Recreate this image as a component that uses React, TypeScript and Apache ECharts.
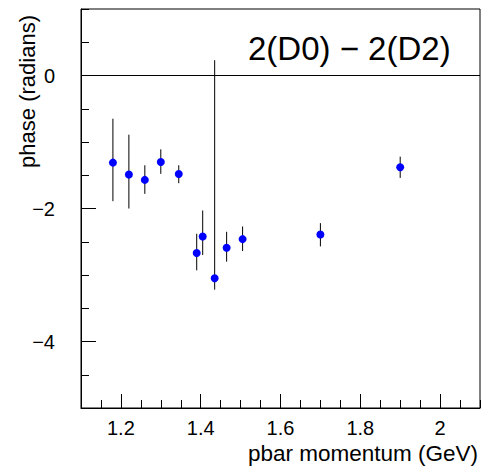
import React, { useEffect, useRef } from "react";
import * as echarts from "echarts";

// pbar momentum (GeV)
const momentum = [1.18, 1.22, 1.26, 1.3, 1.345, 1.39, 1.405, 1.435, 1.465, 1.505, 1.7, 1.9];
// phase difference (radians)
const phase = [-1.31, -1.49, -1.57, -1.3, -1.48, -2.67, -2.42, -3.05, -2.59, -2.46, -2.39, -1.38];
// upper / lower ends of the error bars
const phaseHigh = [-0.65, -0.89, -1.35, -1.11, -1.35, -2.38, -2.03, 0.23, -2.35, -2.27, -2.22, -1.22];
const phaseLow = [-1.89, -2.0, -1.78, -1.48, -1.62, -2.93, -2.7, -3.22, -2.8, -2.64, -2.57, -1.54];

const xMajorTicks = [1.2, 1.4, 1.6, 1.8, 2.0];
const yMajorTicks = [-4, -2, 0];

const FONT = "'Liberation Sans', Arial, sans-serif";

export default function App() {
  const ref = useRef<HTMLDivElement>(null);

  useEffect(() => {
    if (!ref.current) return;
    const chart = echarts.init(ref.current, null, { renderer: "svg" });

    const points = momentum.map((m, i) => [m, phase[i]]);
    const bars = momentum.map((m, i) => [m, phaseLow[i], phaseHigh[i]]);

    const fmtY = (v: number) => (v < 0 ? "\u2212" + Math.abs(v) : String(v));
    const fmtX = (v: number) => String(Math.round(v * 10) / 10);

    chart.setOption({
      animation: false,
      backgroundColor: "#fff",
      grid: {
        left: 81,
        top: 9,
        right: 7,
        bottom: 62,
        show: true,
        borderColor: "#000",
        borderWidth: 1,
        backgroundColor: "transparent",
      },
      xAxis: [
        {
          type: "value",
          min: 1.1,
          max: 2.1,
          interval: 0.1,
          position: "bottom",
          axisLine: { show: true, onZero: false, lineStyle: { color: "#000", width: 1 } },
          axisTick: {
            show: true,
            inside: true,
            length: 14,
            customValues: xMajorTicks,
            lineStyle: { color: "#000", width: 1 },
          },
          axisLabel: {
            show: true,
            customValues: xMajorTicks,
            formatter: fmtX,
            margin: 10,
            color: "#000",
            fontSize: 20,
            fontFamily: FONT,
          },
          splitLine: { show: false },
        },
        {
          type: "value",
          min: 1.1,
          max: 2.1,
          interval: 0.05,
          position: "bottom",
          axisLine: { show: false, onZero: false },
          axisTick: { show: true, inside: true, length: 8, lineStyle: { color: "#000", width: 1 } },
          axisLabel: { show: false },
          splitLine: { show: false },
        },
      ],
      yAxis: [
        {
          type: "value",
          min: -5,
          max: 1,
          interval: 1,
          position: "left",
          axisLine: { show: true, onZero: false, lineStyle: { color: "#000", width: 1 } },
          axisTick: {
            show: true,
            inside: true,
            length: 15,
            customValues: yMajorTicks,
            lineStyle: { color: "#000", width: 1 },
          },
          axisLabel: {
            show: true,
            customValues: yMajorTicks,
            formatter: fmtY,
            margin: 26,
            color: "#000",
            fontSize: 20,
            fontFamily: FONT,
          },
          splitLine: { show: false },
        },
        {
          type: "value",
          min: -5,
          max: 1,
          interval: 0.5,
          position: "left",
          axisLine: { show: false, onZero: false },
          axisTick: { show: true, inside: true, length: 8, lineStyle: { color: "#000", width: 1 } },
          axisLabel: { show: false },
          splitLine: { show: false },
        },
      ],
      series: [
        {
          type: "custom",
          xAxisIndex: 0,
          yAxisIndex: 0,
          data: bars,
          encode: { x: 0, y: [1, 2] },
          z: 2,
          silent: true,
          renderItem: (_params: any, api: any) => {
            const x = api.value(0);
            const p1 = api.coord([x, api.value(1)]);
            const p2 = api.coord([x, api.value(2)]);
            return {
              type: "line",
              shape: { x1: p1[0], y1: p1[1], x2: p2[0], y2: p2[1] },
              style: { stroke: "#000", lineWidth: 1 },
            };
          },
        },
        {
          type: "scatter",
          xAxisIndex: 0,
          yAxisIndex: 0,
          data: points,
          symbol: "circle",
          symbolSize: 8,
          z: 3,
          itemStyle: { color: "#0000ff", opacity: 1 },
          markLine: {
            silent: true,
            symbol: "none",
            label: { show: false },
            lineStyle: { color: "#000", width: 1, type: "solid" },
            data: [{ yAxis: 0 }],
          },
        },
      ],
      graphic: [
        {
          type: "text",
          x: 248,
          y: 65,
          style: {
            text: "2(D0) \u2212 2(D2)",
            fontSize: 33,
            fontFamily: FONT,
            fill: "#000",
            textAlign: "left",
            textVerticalAlign: "bottom",
          },
        },
        {
          type: "text",
          x: 478,
          y: 465,
          style: {
            text: "pbar momentum (GeV)",
            fontSize: 22.5,
            fontFamily: FONT,
            fill: "#000",
            textAlign: "right",
            textVerticalAlign: "bottom",
          },
        },
        {
          type: "text",
          x: 27,
          y: 15,
          rotation: Math.PI / 2,
          style: {
            text: "phase (radians)",
            fontSize: 22,
            fontFamily: FONT,
            fill: "#000",
            textAlign: "right",
            textVerticalAlign: "middle",
          },
        },
      ],
    });

    return () => chart.dispose();
  }, []);

  return (
    <div
      ref={ref}
      style={{ position: "fixed", left: 0, top: 0, width: 487, height: 470, background: "#fff" }}
    />
  );
}
